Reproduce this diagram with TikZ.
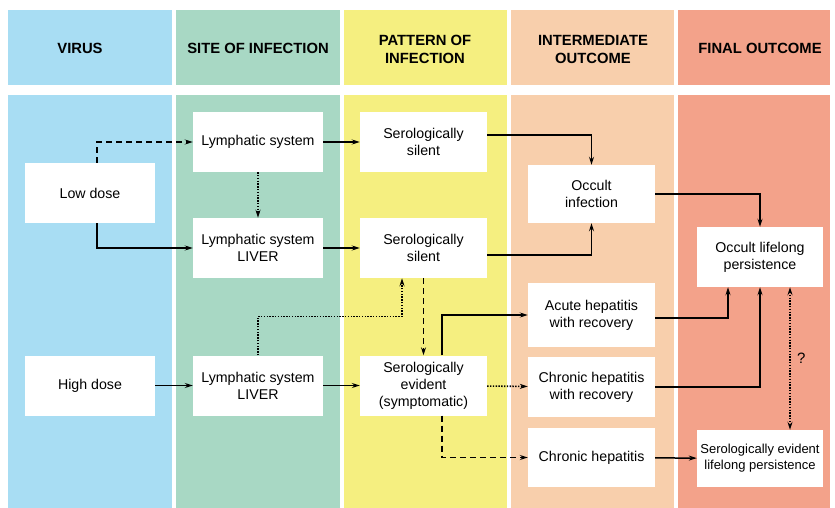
\documentclass[tikz,border=0pt]{standalone}
\usepackage{fontspec}
\setmainfont{Liberation Sans}
\usetikzlibrary{calc,arrows.meta}
\definecolor{cvirus}{HTML}{A8DDF3}
\definecolor{csite}{HTML}{A8D8C4}
\definecolor{cpattern}{HTML}{F5EF80}
\definecolor{cinter}{HTML}{F8CFAC}
\definecolor{cfinal}{HTML}{F3A28A}
\tikzset{
    box/.style={fill=white, align=center, inner sep=2pt, minimum width=130pt, minimum height=60pt,
      font=\fontsize{14.2}{17}\selectfont},
    head/.style={align=center, font=\fontsize{14.8}{18}\bfseries},
    arr/.style={-{Stealth[length=8pt,width=5pt]}, line width=1.5pt},
    dots/.style={dash pattern=on 1.4pt off 1.4pt, line width=1.6pt},
    dashes/.style={dash pattern=on 6pt off 4pt},
  }

\begin{document}
\begin{tikzpicture}[x=1pt,y=-1pt]
				  %page and column bands
				  \useasboundingbox (0,0) rectangle (835,508);
				  \fill[white] (0,0) rectangle (835,508);
				  \foreach \xa/\xb/\c in {8/172/cvirus,176/340/csite,344/507/cpattern,511/674/cinter,678/830/cfinal}{
				    \fill[\c] (\xa,10) rectangle (\xb,85);
				    \fill[\c] (\xa,95) rectangle (\xb,508);
				  }

				  %headers
				  \node[head] (hvirus) at (80,48) {VIRUS};
				  \node[head] (hsite) at (258,48) {SITE OF INFECTION};
				  \node[head] (hpattern) at (425,49) {PATTERN OF\\INFECTION};
				  \node[head] (hinter) at (593,49) {INTERMEDIATE\\OUTCOME};
				  \node[head] (hfinal) at (760,48) {FINAL OUTCOME};

				  %boxes
				  \node[box] (low) at (90,193) {Low dose};
				  \node[box] (high) at (90,385.5) {High dose};
				  \node[box] (lymA) at (258,142) {Lymphatic system};
				  \node[box] (lymB) at (258,248) {Lymphatic system\\LIVER};
				  \node[box] (lymC) at (258,385.5) {Lymphatic system\\LIVER};
				  \node[box, minimum width=127pt] (silA) at (423.5,142) {Serologically\\silent};
				  \node[box, minimum width=127pt] (silB) at (423.5,248) {Serologically\\silent};
				  \node[box, minimum width=127pt] (evi) at (423.5,385.5) {Serologically\\evident\\(symptomatic)};
				  \node[box, minimum width=127pt, minimum height=58pt] (occ) at (591.5,194) {Occult\\infection};
				  \node[box, minimum width=127pt, minimum height=64pt] (acute) at (591.5,315) {Acute hepatitis\\with recovery};
				  \node[box, minimum width=127pt] (chronrec) at (591.5,387) {Chronic hepatitis\\with recovery};
				  \node[box, minimum width=127pt, minimum height=59pt] (chron) at (591.5,457.5) {Chronic hepatitis};
				  \node[box, minimum width=126pt] (occlife) at (760,257) {Occult lifelong\\persistence};
				  \node[box, minimum width=126pt, minimum height=57pt, font=\fontsize{13}{16}\selectfont] (serlife) at (760,458.5) {Serologically evident\\lifelong persistence};

				  %connectors
				  \draw[arr, dashes] ([xshift=7pt]low.north) |- (lymA);
				  \draw[arr] ([xshift=7pt]low.south) |- (lymB);
				  \draw[arr, dots] (lymA) -- (lymB);
				  \draw[arr] (lymA) -- (silA);
				  \draw[arr] (lymB) -- (silB);
				  \draw[arr] ([yshift=7pt]silA.east) -| (occ);
				  \draw[arr] ([yshift=-7pt]silB.east) -| (occ);
				  \draw[arr] (occ) -| (occlife);
				  \draw[arr, dots] (lymC.north) -- ++(0,-39) -| ([xshift=-21.5pt]silB.south);
				  \draw[arr] (high) -- (lymC);
				  \draw[arr] (lymC) -- (evi);
				  \draw[arr, dashes] (silB) -- (evi);
				  \draw[arr] ([xshift=18.5pt]evi.north) |- (acute);
				  \draw[arr, dots] (evi) -- (chronrec);
				  \draw[arr, dashes] ([xshift=18.5pt]evi.south) |- (chron);
				  \draw[arr] ([yshift=-3pt]acute.east) -| ([xshift=-32pt]occlife.south);
				  \draw[arr] (chronrec) -| (occlife);
				  \draw[arr] (chron) -- (serlife);
				  \draw[arr, dots, {Stealth[length=8pt,width=5pt]}-{Stealth[length=8pt,width=5pt]}] ([xshift=30pt]occlife.south) -- ([xshift=30pt]serlife.north)
				    node[midway, right=3pt, font=\fontsize{15}{17}\selectfont] {?};
\end{tikzpicture}
\end{document}
